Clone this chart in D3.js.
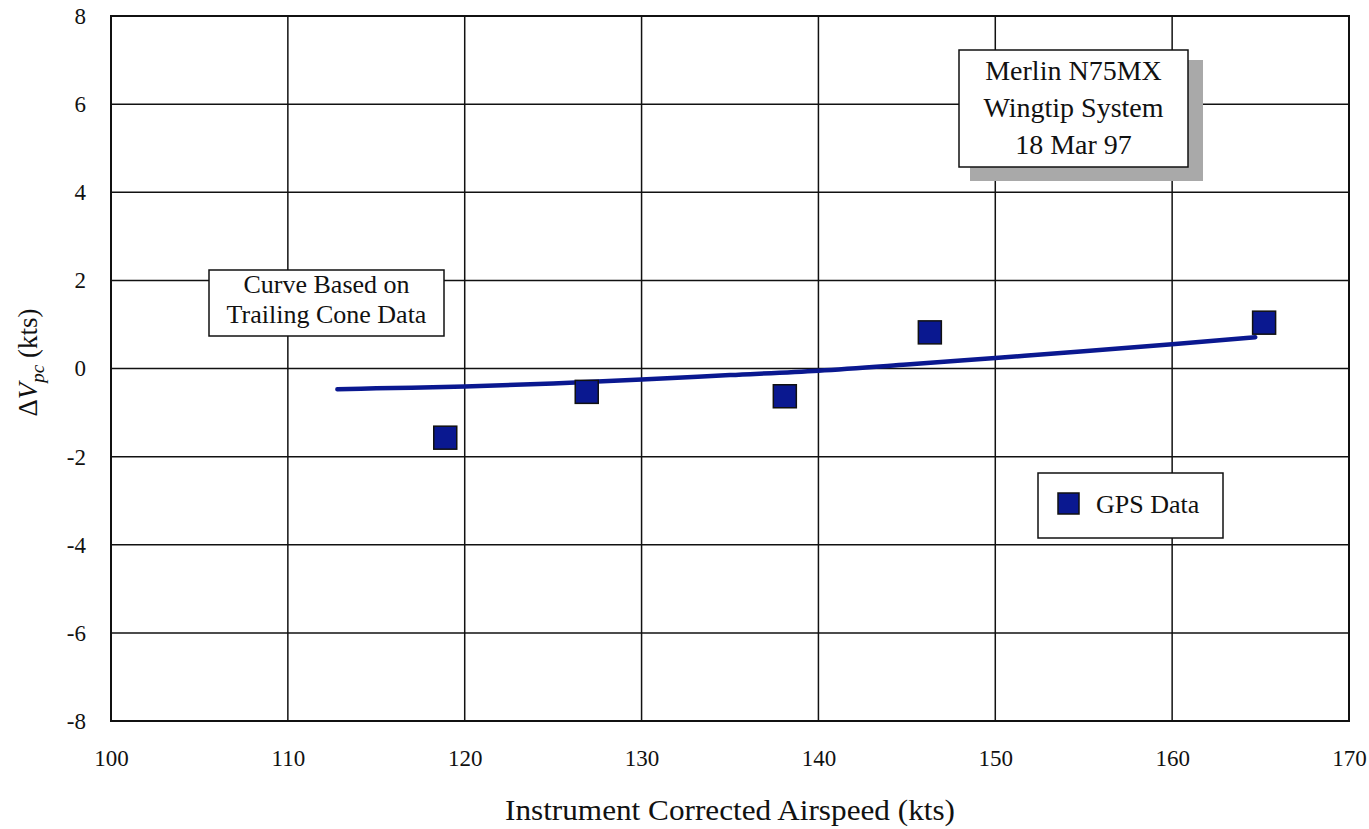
<!DOCTYPE html>
<html>
<head>
<meta charset="utf-8">
<script src="https://cdn.jsdelivr.net/npm/d3@7"></script>
<style>
  html, body { margin: 0; padding: 0; background: #fff; }
  svg { display: block; }
  text { font-family: "Liberation Serif", "Times New Roman", serif; fill: #111; }
</style>
</head>
<body>
<svg id="chart" width="1369" height="829"></svg>
<script>
// Position-error data, Merlin N75MX wingtip system
const gpsAirspeed = [118.9, 126.9, 138.1, 146.3, 165.2];
const gpsDeltaV   = [-1.57, -0.53, -0.63, 0.82, 1.04];

const coneAirspeed = [112.8, 115, 120, 125, 130, 135, 140, 145, 150, 155, 160, 164.7];
const coneDeltaV   = [-0.47, -0.45, -0.41, -0.34, -0.25, -0.15, -0.05, 0.09, 0.24, 0.39, 0.55, 0.71];

const xTicks = [100, 110, 120, 130, 140, 150, 160, 170];
const yTicks = [-8, -6, -4, -2, 0, 2, 4, 6, 8];

const infoLines = ["Merlin N75MX", "Wingtip System", "18 Mar 97"];
const curveLines = ["Curve Based on", "Trailing Cone Data"];
const legendLabel = "GPS Data";

const svg = d3.select("#chart");
const plot = { left: 111, right: 1349, top: 16, bottom: 721 };

const x = d3.scaleLinear().domain([100, 170]).range([plot.left, plot.right]);
const y = d3.scaleLinear().domain([-8, 8]).range([plot.bottom, plot.top]);

const navy = "#0a1890";
const tickFmt = d => String(d);   // plain hyphen for negatives

// grid
const grid = svg.append("g").attr("stroke", "#111").attr("stroke-width", 1.5);
grid.selectAll("line.v").data(xTicks.slice(1, -1)).join("line")
  .attr("x1", d => x(d)).attr("x2", d => x(d))
  .attr("y1", plot.top).attr("y2", plot.bottom);
grid.selectAll("line.h").data(yTicks.slice(1, -1)).join("line")
  .attr("x1", plot.left).attr("x2", plot.right)
  .attr("y1", d => y(d)).attr("y2", d => y(d));

// frame
svg.append("rect")
  .attr("x", plot.left).attr("y", plot.top)
  .attr("width", plot.right - plot.left).attr("height", plot.bottom - plot.top)
  .attr("fill", "none").attr("stroke", "#111").attr("stroke-width", 2);

// axes tick labels via d3 axes
const xAxis = d3.axisBottom(x).tickValues(xTicks).tickSize(0).tickPadding(29).tickFormat(tickFmt);
const gx = svg.append("g").attr("transform", `translate(0,${plot.bottom})`).call(xAxis);
gx.select(".domain").remove();
gx.selectAll("text").style("font-size", "23px").attr("fill", "#111")
  .style("font-family", '"Liberation Serif", serif');

const yAxis = d3.axisLeft(y).tickValues(yTicks).tickSize(0).tickPadding(25).tickFormat(tickFmt);
const gy = svg.append("g").attr("transform", `translate(${plot.left},0)`).call(yAxis);
gy.select(".domain").remove();
gy.selectAll("text").style("font-size", "23px").attr("fill", "#111")
  .style("font-family", '"Liberation Serif", serif');

// axis titles
svg.append("text")
  .attr("x", 730).attr("y", 820)
  .attr("text-anchor", "middle").style("font-size", "29px")
  .attr("textLength", 450).attr("lengthAdjust", "spacingAndGlyphs")
  .text("Instrument Corrected Airspeed (kts)");

const yt = svg.append("text")
  .attr("transform", `translate(37,${y(0) - 6}) rotate(-90)`)
  .attr("text-anchor", "middle").style("font-size", "27px");
yt.append("tspan").text("Δ");
yt.append("tspan").style("font-style", "italic").text("V");
yt.append("tspan").style("font-style", "italic").style("font-size", "19px").attr("dy", 7).text("pc");
yt.append("tspan").attr("dy", -7).text(" (kts)");

// trailing-cone curve
const line = d3.line().x(d => x(d[0])).y(d => y(d[1])).curve(d3.curveMonotoneX);
svg.append("path")
  .datum(coneAirspeed.map((v, i) => [v, coneDeltaV[i]]))
  .attr("d", line)
  .attr("fill", "none").attr("stroke", navy).attr("stroke-width", 4.5)
  .attr("stroke-linecap", "round");

// GPS markers
const ms = 23;
svg.append("g").selectAll("rect").data(gpsAirspeed.map((v, i) => [v, gpsDeltaV[i]])).join("rect")
  .attr("x", d => x(d[0]) - ms / 2).attr("y", d => y(d[1]) - ms / 2)
  .attr("width", ms).attr("height", ms)
  .attr("fill", navy).attr("stroke", "#111").attr("stroke-width", 1.5);

// boxed annotations
function textBox(x0, y0, w, h, lines, lh, size, shadow, firstBaseline, textW) {
  const g = svg.append("g");
  if (shadow) {
    g.append("rect").attr("x", x0 + 11).attr("y", y0 + 10).attr("width", w + 4).attr("height", h + 4)
      .attr("fill", "#a9a9a9");
  }
  g.append("rect").attr("x", x0).attr("y", y0).attr("width", w).attr("height", h)
    .attr("fill", "#fff").attr("stroke", "#111").attr("stroke-width", 1.5);
  const t = g.append("text").attr("text-anchor", "middle").style("font-size", size + "px");
  lines.forEach((s, i) => {
    t.append("tspan").attr("x", x0 + w / 2).attr("y", firstBaseline + i * lh).text(s);
  });
}
textBox(959, 50, 229, 117, infoLines, 37, 28, true, 80);
textBox(209, 270, 235, 66, curveLines, 30, 26, false, 293);

// legend
const lg = svg.append("g");
lg.append("rect").attr("x", 1038).attr("y", 473).attr("width", 185).attr("height", 65)
  .attr("fill", "#fff").attr("stroke", "#111").attr("stroke-width", 1.5);
lg.append("rect").attr("x", 1058).attr("y", 493).attr("width", 21).attr("height", 21)
  .attr("fill", navy).attr("stroke", "#111").attr("stroke-width", 1.5);
lg.append("text").attr("x", 1096).attr("y", 513).style("font-size", "26px").text(legendLabel);
</script>
</body>
</html>
